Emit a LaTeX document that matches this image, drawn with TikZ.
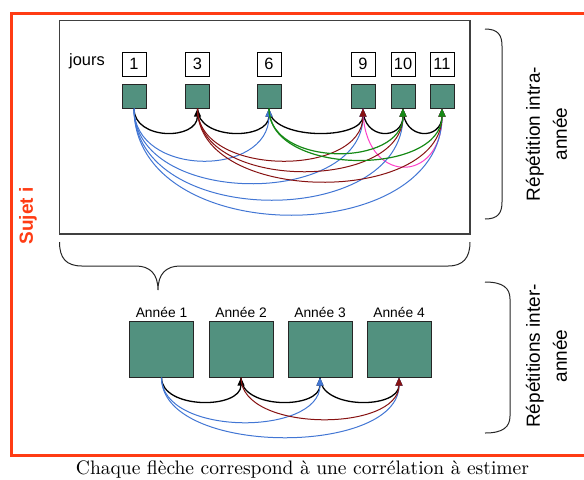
\documentclass[tikz,border=0pt]{standalone}
\usepackage{fontspec}
\usepackage{graphicx}
\newfontfamily\arialf{Liberation Sans}
\usetikzlibrary{arrows.meta}
\definecolor{tealbox}{RGB}{82,145,127}
\definecolor{arcblue}{RGB}{66,118,212}
\definecolor{arcred}{RGB}{135,18,18}
\definecolor{arcgreen}{RGB}{22,138,22}
\definecolor{arcpink}{RGB}{255,64,200}
\definecolor{subjred}{RGB}{255,60,20}
\begin{document}
\begin{tikzpicture}[x=0.5pt,y=-0.5pt,
  numbox/.style={draw=black,line width=0.5pt,fill=white,minimum width=12pt,minimum height=12pt,inner sep=0pt,font=\arialf\fontsize{8.2}{9}\selectfont},
  greenbox/.style={draw=black!85,line width=0.5pt,fill=tealbox,minimum width=12pt,minimum height=12pt,inner sep=0pt},
  yearbox/.style={greenbox,minimum width=32pt,minimum height=28pt},
  yearlabel/.style={font=\arialf\fontsize{6.9}{8}\selectfont,inner sep=0pt},
  sidelabel/.style={rotate=90,align=center,inner sep=0pt,font=\arialf\fontsize{9.5}{13.5}\selectfont},
  corr/.style={-{Triangle[length=4pt,width=3.4pt]},line width=0.5pt},
  consec/.style={corr,black,line width=0.65pt},
  bracket/.style={line width=0.5pt,black!85},
]
\useasboundingbox (0,0) rectangle (584,479);
% outer subject frame
\draw[subjred,line width=1.1pt] (600,13.5) -- (11.5,13.5) -- (11.5,455.5) -- (600,455.5);
\node[rotate=90,text=subjred,inner sep=0pt,font=\arialf\bfseries\fontsize{9.5}{11}\selectfont] (sujet) at (28,216) {Sujet i};
% inner frame
\draw[black!75,line width=0.6pt] (59.5,20.5) rectangle (470,234);
\node[inner sep=0pt,font=\arialf\fontsize{8.2}{9}\selectfont] (jours) at (87,61) {jours};
% day boxes
\foreach \n/\x in {1/134,3/197.5,6/269,9/363,10/403,11/442}{
  \node[numbox] (n\n) at (\x,64) {\n};
  \node[greenbox] (g\n) at (\x,96) {};
}
% black (consecutive)
\draw[consec] (g1.south) .. controls +(0,32) and +(0,32) .. (g3.south);
\draw[consec] (g3.south) .. controls +(0,32) and +(0,32) .. (g6.south);
\draw[consec] (g6.south) .. controls +(0,32) and +(0,32) .. (g9.south);
\draw[consec] (g9.south) .. controls +(0,32) and +(0,32) .. (g10.south);
\draw[consec] (g10.south) .. controls +(0,32) and +(0,32) .. (g11.south);
% pink
\draw[corr,arcpink] (g9.south) .. controls +(0,77) and +(0,77) .. (g11.south);
% blue from 1
\draw[corr,arcblue] (g1.south) .. controls +(0,69) and +(0,69) .. (g6.south);
\draw[corr,arcblue] (g1.south) .. controls +(0,99) and +(0,99) .. (g9.south);
\draw[corr,arcblue] (g1.south) .. controls +(0,121) and +(0,121) .. (g10.south);
\draw[corr,arcblue] (g1.south) .. controls +(0,141) and +(0,141) .. (g11.south);
% red from 3
\draw[corr,arcred] (g3.south) .. controls +(0,69) and +(0,69) .. (g9.south);
\draw[corr,arcred] (g3.south) .. controls +(0,83) and +(0,83) .. (g10.south);
\draw[corr,arcred] (g3.south) .. controls +(0,97) and +(0,97) .. (g11.south);
% green from 6
\draw[corr,arcgreen,line width=0.6pt] (g6.south) .. controls +(0,59) and +(0,59) .. (g10.south);
\draw[corr,arcgreen,line width=0.6pt] (g6.south) .. controls +(0,68) and +(0,68) .. (g11.south);
% right bracket (intra)
\draw[bracket] (485,29) .. controls (498,29) and (502,35) .. (502,46) -- (502,202) .. controls (502,213) and (498,219) .. (485,219);
\node[sidelabel] (intra) at (546.5,134) {Répétition intra-\\année};
% horizontal brace
\draw[bracket] (59.5,242) .. controls (59.5,258) and (66,266) .. (82,266) -- (136,266) .. controls (150,266) and (158,274) .. (158,290)
  .. controls (158,274) and (166,266) .. (180,266) -- (448,266) .. controls (463,266) and (470,258) .. (470,242);
% years
\foreach \k/\x in {1/161.5,2/241,3/320,4/399}{
  \node[yearbox] (y\k) at (\x,349) {};
  \node[yearlabel] (l\k) at (\x,312.5) {Année \k};
}
\draw[consec] (y1.south) .. controls +(0,32) and +(0,32) .. (y2.south);
\draw[consec] (y2.south) .. controls +(0,32) and +(0,32) .. (y3.south);
\draw[consec] (y3.south) .. controls +(0,32) and +(0,32) .. (y4.south);
\draw[corr,arcblue] (y1.south) .. controls +(0,59) and +(0,59) .. (y3.south);
\draw[corr,arcblue] (y1.south) .. controls +(0,79) and +(0,79) .. (y4.south);
\draw[corr,arcred] (y2.south) .. controls +(0,55) and +(0,55) .. (y4.south);
% right bracket (inter)
\draw[bracket] (485,282) .. controls (503,282) and (510,288) .. (510,299) -- (510,416) .. controls (510,427) and (503,433) .. (485,433);
\node[sidelabel] (inter) at (546.5,356) {Répétitions inter-\\année};
% caption
\node[inner sep=0pt] (caption) at (302.5,470) {\resizebox{226.5pt}{!}{Chaque flèche correspond à une corrélation à estimer}};
\end{tikzpicture}
\end{document}
